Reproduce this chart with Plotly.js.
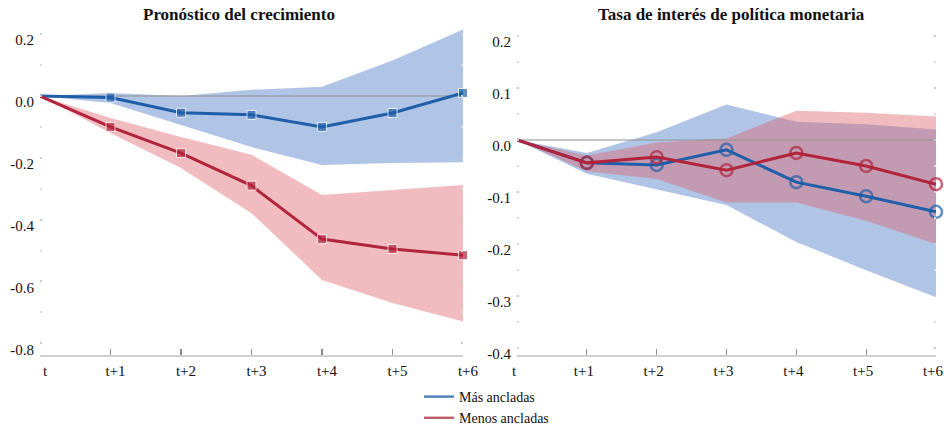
<!DOCTYPE html>
<html>
<head>
<meta charset="utf-8">
<script src="https://cdn.plot.ly/plotly-3.0.1.min.js"></script>
<style>
  html, body { margin: 0; padding: 0; background: #fff; }
  #chart { width: 944px; height: 427px; }
</style>
</head>
<body>
<div id="chart"></div>
<script>
// Horizons
const horizons = ["t", "t+1", "t+2", "t+3", "t+4", "t+5", "t+6"];

// Growth forecast response
const growthMas      = [0, -0.005, -0.054, -0.061, -0.100, -0.055, 0.010];
const growthMasHi    = [0, 0.010, 0.000, 0.020, 0.030, 0.115, 0.215];
const growthMasLo    = [0, -0.023, -0.094, -0.165, -0.223, -0.217, -0.214];
const growthMenos    = [0, -0.100, -0.185, -0.290, -0.463, -0.495, -0.515];
const growthMenosHi  = [0, -0.071, -0.133, -0.190, -0.320, -0.304, -0.288];
const growthMenosLo  = [0, -0.120, -0.233, -0.379, -0.595, -0.670, -0.730];

// Policy rate response
const rateMas        = [0, -0.044, -0.048, -0.019, -0.081, -0.108, -0.138];
const rateMasHi      = [0, -0.025, 0.015, 0.068, 0.035, 0.030, 0.020];
const rateMasLo      = [0, -0.065, -0.095, -0.125, -0.196, -0.250, -0.302];
const rateMenos      = [0, -0.044, -0.033, -0.058, -0.025, -0.050, -0.085];
const rateMenosHi    = [0, -0.030, -0.005, 0.003, 0.056, 0.052, 0.045];
const rateMenosLo    = [0, -0.060, -0.075, -0.120, -0.120, -0.155, -0.200];

// Y-axis tick values
const growthTicks = [0.2, 0.0, -0.2, -0.4, -0.6, -0.8];
const rateTicks   = [0.2, 0.1, 0.0, -0.1, -0.2, -0.3, -0.4];

const seriesNames = ["Más ancladas", "Menos ancladas"];

const BLUE = "#1f5ea8";
const RED = "#b2243b";
const BLUE_FILL = "rgba(80,125,200,0.45)";
const RED_FILL = "rgba(220,95,105,0.42)";

const xs = horizons.map((_, i) => i);

function band(hi, lo, fill, xa, ya) {
  return {
    x: xs.concat(xs.slice().reverse()),
    y: hi.concat(lo.slice().reverse()),
    fill: "toself", fillcolor: fill, mode: "lines",
    line: { width: 0, color: "rgba(0,0,0,0)" },
    hoverinfo: "skip", showlegend: false, xaxis: xa, yaxis: ya
  };
}

function zeroLine(xa, ya) {
  return {
    x: [xs[0], xs[xs.length - 1]], y: [0, 0], mode: "lines",
    line: { color: "rgba(150,150,150,0.55)", width: 2 },
    hoverinfo: "skip", showlegend: false, xaxis: xa, yaxis: ya
  };
}

// no marker at the starting horizon
function series(vals, color, symbol, xa, ya) {
  const open = symbol === "circle-open";
  const sizes = xs.map(i => (i === 0 ? 0 : (open ? 12 : 9)));
  return {
    x: xs, y: vals, mode: "lines+markers",
    line: { color: color, width: 3 },
    marker: open
      ? { symbol: "circle-open", size: sizes, color: color, line: { width: 2.5, color: color } }
      : { symbol: "square", size: sizes, color: color },
    cliponaxis: false, showlegend: false, xaxis: xa, yaxis: ya
  };
}

const traces = [
  // growth panel
  band(growthMasHi, growthMasLo, BLUE_FILL, "x", "y"),
  band(growthMenosHi, growthMenosLo, RED_FILL, "x", "y"),
  zeroLine("x", "y"),
  series(growthMas, BLUE, "square", "x", "y"),
  series(growthMenos, RED, "square", "x", "y"),
  // rate panel
  band(rateMasHi, rateMasLo, BLUE_FILL, "x2", "y2"),
  band(rateMenosHi, rateMenosLo, RED_FILL, "x2", "y2"),
  zeroLine("x2", "y2"),
  series(rateMas, BLUE, "circle-open", "x2", "y2"),
  series(rateMenos, RED, "circle-open", "x2", "y2"),
  // legend entries
  { x: [null], y: [null], mode: "lines", name: seriesNames[0], line: { color: "#4f83b8", width: 2.5 }, xaxis: "x", yaxis: "y" },
  { x: [null], y: [null], mode: "lines", name: seriesNames[1], line: { color: "#c0606f", width: 2.5 }, xaxis: "x", yaxis: "y" }
];

const W = 944, H = 427;
const yDom = [1 - 355 / H, 1 - 28 / H];
const font = { family: "Liberation Serif", color: "#111", size: 15 };

function xAxis(domain, shift) {
  return {
    domain: domain, range: [0, 6], tickmode: "array", tickvals: xs, ticktext: horizons,
    showgrid: false, zeroline: false, showline: true, linecolor: "#cfcfcf", linewidth: 1.5,
    ticks: "inside", ticklen: 6, tickcolor: "#8a8a8a", tickwidth: 1.2,
    ticklabelshift: shift, ticklabelstandoff: 1, ticklabeloverflow: "allow",
    tickfont: font, fixedrange: true
  };
}

function yAxis(range, ticks, minorStep, anchor) {
  return {
    domain: yDom, range: range, anchor: anchor, tickmode: "array", tickvals: ticks,
    ticktext: ticks.map(v => v.toFixed(1)),
    showgrid: false, zeroline: false, showline: false,
    ticks: "inside", ticklen: 2, tickcolor: "#cccccc", tickwidth: 2, mirror: "ticks",
    minor: { dtick: minorStep, ticks: "inside", ticklen: 2, tickcolor: "#dddddd", tickwidth: 2 },
    ticklabelshift: 6, ticklabelstandoff: 5, ticklabeloverflow: "allow",
    tickfont: font, fixedrange: true
  };
}

const layout = {
  width: W, height: H,
  margin: { l: 0, r: 0, t: 0, b: 0, autoexpand: false },
  paper_bgcolor: "#fff", plot_bgcolor: "#fff",
  font: font,
  xaxis: xAxis([40 / W, 463 / W], 5),
  yaxis: yAxis([-0.838, 0.22], growthTicks, 0.1, "x"),
  xaxis2: Object.assign(xAxis([517 / W, 936 / W], -3), { anchor: "y2" }),
  yaxis2: yAxis([-0.413, 0.215], rateTicks, 0.05, "x2"),
  showlegend: true,
  legend: {
    x: 419 / W, xanchor: "left", y: 1 - 381 / H, yanchor: "top",
    font: Object.assign({}, font, { size: 14 }), bgcolor: "rgba(0,0,0,0)",
    tracegroupgap: 0, itemwidth: 30
  },
  annotations: [
    { text: "<b>Pronóstico del crecimiento</b>", x: 239 / W, y: 1 - 14 / H, xref: "paper", yref: "paper",
      xanchor: "center", yanchor: "middle", showarrow: false, font: Object.assign({}, font, { size: 17 }) },
    { text: "<b>Tasa de interés de política monetaria</b>", x: 731 / W, y: 1 - 14 / H, xref: "paper", yref: "paper",
      xanchor: "center", yanchor: "middle", showarrow: false, font: Object.assign({}, font, { size: 17 }) }
  ]
};

Plotly.newPlot("chart", traces, layout, { displayModeBar: false, staticPlot: true });
</script>
</body>
</html>
